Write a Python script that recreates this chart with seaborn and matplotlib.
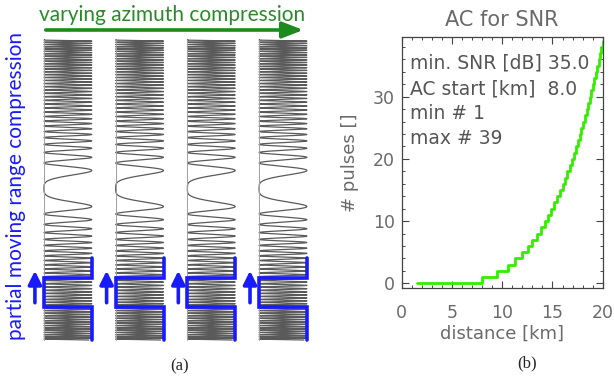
import numpy as np
import pandas as pd
import matplotlib
matplotlib.use("Agg")
import matplotlib.pyplot as plt
from matplotlib.ticker import MultipleLocator
import seaborn as sns

# panel (a): four chirp pulses with a sliding compression window
column_left = [0.0, 1.5, 3.0, 4.5]      # left edge of each pulse column
column_width = 1.0
chirp_center_t = 0.01                   # time of lowest frequency (normalised time -1..1)
chirp_first_peak_dt = 0.12              # distance from centre to first opposite extremum
window_top_t = -0.453                   # blue bracket levels
window_upper_t = -0.587
window_lower_t = -0.78
window_bottom_t = -1.0
arrow_from_t = -0.77
arrow_to_t = -0.52

# panel (b): number of pulses vs distance
step_km = [1.5, 8.00, 9.51, 10.53, 11.31, 11.96, 12.52, 13.01, 13.45, 13.86, 14.23,
           14.57, 14.89, 15.19, 15.48, 15.75, 16.00, 16.24, 16.48, 16.70, 16.92,
           17.12, 17.32, 17.52, 17.70, 17.89, 18.06, 18.24, 18.40, 18.56, 18.72,
           18.87, 19.03, 19.17, 19.32, 19.46, 19.60, 19.73, 19.86, 20.00]
n_pulses = [0, 1, 2, 3, 4, 5, 6, 7, 8, 9, 10, 11, 12, 13, 14, 15, 16, 17, 18, 19, 20,
            21, 22, 23, 24, 25, 26, 27, 28, 29, 30, 31, 32, 33, 34, 35, 36, 37, 38, 39]
info_lines = ["min. SNR [dB] 35.0", "AC start [km]  8.0", "min # 1", "max # 39"]

sns.set_style("ticks")
plt.rcParams["font.family"] = ["DejaVu Sans"]

W, H = 614, 379
fig = plt.figure(figsize=(W / 100, H / 100), dpi=100)

#left panel
px_per_unit = 47.8
xl = (-0.6, 5.6)
ax_a_left = 44 - 0.6 * px_per_unit
ax_a_w = (xl[1] - xl[0]) * px_per_unit
y_top, y_bot = 40, 340
yl = (-1.03, 1.03)
pad_px = 0.03 * (y_bot - y_top) / 2
axa = fig.add_axes([ax_a_left / W, 1 - (y_bot + pad_px) / H, ax_a_w / W,
                    (y_bot - y_top + 2 * pad_px) / H])
axa.set_xlim(*xl)
axa.set_ylim(*yl)
axa.axis("off")

t = np.linspace(-1, 1, 9000)
phase = np.pi * ((t - chirp_center_t) / chirp_first_peak_dt) ** 2
for left in column_left:
    xw = left + column_width * 0.5 * (1 - np.cos(phase))
    df = pd.DataFrame({"x": xw, "t": t})
    sns.lineplot(data=df, x="x", y="t", sort=False, estimator=None, ax=axa,
                 color="#5a5a5a", lw=0.9)
    axa.plot([left, left], [-1, 1], color="#a0a0a0", lw=0.7)
    r = left + column_width
    axa.plot([r, r, left, left, r, r],
             [window_top_t, window_upper_t, window_upper_t, window_lower_t,
              window_lower_t, window_bottom_t],
             color="#1a1aff", lw=2.6, solid_joinstyle="miter", zorder=5)
    axa.annotate("", xy=(left - 0.19, arrow_to_t), xytext=(left - 0.19, arrow_from_t),
                 arrowprops=dict(arrowstyle="-|>,head_width=0.4,head_length=0.8",
                                 color="#1a1aff", lw=2.6), zorder=5)

fig.text(172 / W, 1 - 15 / H, "varying azimuth compression", color="#2a8a2a",
         fontsize=15, family="Lato", ha="center", va="center")
fig.patches.append(matplotlib.patches.FancyArrowPatch(
    (43 / W, 1 - 30 / H), (306 / W, 1 - 30 / H), transform=fig.transFigure,
    arrowstyle="-|>,head_width=0.35,head_length=0.9", color="#1e8a1e", lw=2.6,
    mutation_scale=14))
fig.text(16 / W, 1 - 186 / H, "partial moving range compression", color="#1a1aff",
         fontsize=15, family="Lato", rotation=90, ha="center", va="center")
fig.text(180 / W, 1 - 366 / H, "(a)", fontsize=12, family="Liberation Serif",
         ha="center", va="center")

#right panel
gray = "#6a6a6a"
axb = fig.add_axes([401.7 / W, 1 - 288.3 / H, 201 / W, 251.3 / H])
sns.lineplot(x=step_km, y=n_pulses, drawstyle="steps-post", color="#33ee00",
             lw=2, ax=axb)
axb.set_xlim(0, 20)
axb.set_ylim(-0.8, 39.6)
axb.xaxis.set_major_locator(MultipleLocator(5))
axb.xaxis.set_minor_locator(MultipleLocator(1))
axb.yaxis.set_major_locator(MultipleLocator(10))
axb.yaxis.set_minor_locator(MultipleLocator(2))
axb.tick_params(which="both", direction="in", top=True, right=True,
                colors="#444444", labelcolor=gray, labelsize=12.5)
axb.tick_params(which="major", length=5, width=0.8)
axb.tick_params(which="minor", length=2.5, width=0.7)
axb.tick_params(axis="x", pad=11)
axb.tick_params(axis="y", pad=5)
for s in axb.spines.values():
    s.set_color("#444444")
    s.set_linewidth(0.9)
axb.set_title("AC for SNR", color=gray, fontsize=15, pad=8)
axb.set_xlabel("distance [km]", color=gray, fontsize=13, labelpad=2)
axb.set_ylabel("# pulses []", color=gray, fontsize=13, labelpad=10)
line_y = [35.4, 31.3, 27.3, 23.3]
for txt, yy in zip(info_lines, line_y):
    axb.text(0.83, yy, txt, color="#555555", fontsize=13.5, ha="left", va="center")
fig.text(527 / W, 1 - 363 / H, "(b)", fontsize=12, family="Liberation Serif",
         ha="center", va="center")

fig.savefig("out.png", dpi=100)
